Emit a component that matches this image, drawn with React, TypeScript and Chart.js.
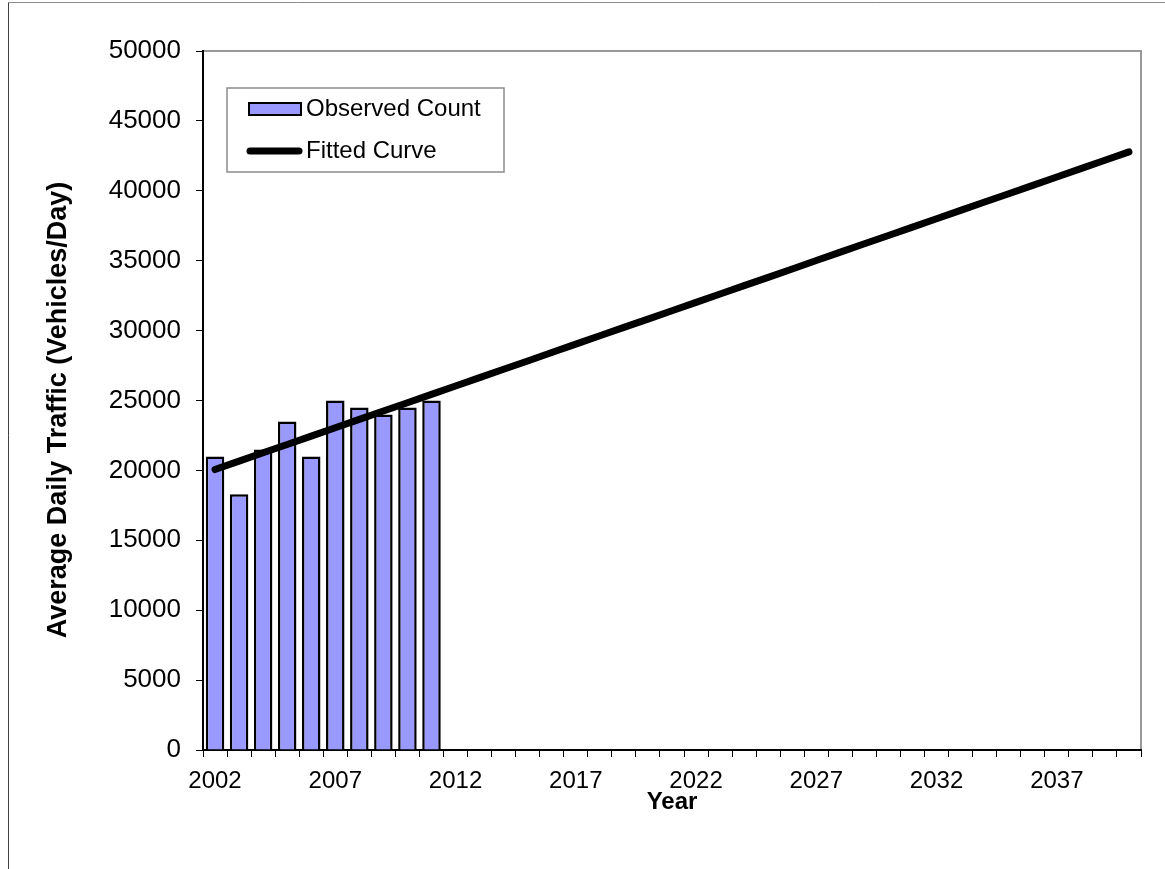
import React, { useEffect, useRef } from 'react';
import { Chart, registerables } from 'chart.js';

Chart.register(...registerables);

const years = [
  '2002', '2003', '2004', '2005', '2006', '2007', '2008', '2009', '2010', '2011',
  '2012', '2013', '2014', '2015', '2016', '2017', '2018', '2019', '2020', '2021',
  '2022', '2023', '2024', '2025', '2026', '2027', '2028', '2029', '2030', '2031',
  '2032', '2033', '2034', '2035', '2036', '2037', '2038', '2039', '2040',
];

const observedCount = [21000, 18300, 21500, 23500, 21000, 25000, 24500, 24000, 24500, 25000];

const fittedCurve = [
  20060, 20660, 21260, 21850, 22450, 23050, 23650, 24250, 24840, 25440,
  26040, 26640, 27240, 27830, 28430, 29030, 29630, 30230, 30820, 31420,
  32020, 32620, 33220, 33810, 34410, 35010, 35610, 36210, 36800, 37400,
  38000, 38600, 39200, 39790, 40390, 40990, 41590, 42190, 42780,
];

const xTickLabels = ['2002', '2007', '2012', '2017', '2022', '2027', '2032', '2037'];
const yMin = 0;
const yMax = 50000;
const yStep = 5000;

const legendLabels = ['Observed Count', 'Fitted Curve'];
const seriesLabels = ['Observed Count', 'Fitted Curve'];
const yTitle = 'Average Daily Traffic (Vehicles/Day)';
const xTitle = 'Year';

const FONT = '"Liberation Sans", Arial, sans-serif';
const BAR_COLOR = '#9999FF';

const decorPlugin = {
  id: 'decor',
  beforeDraw(chart: any) {
    const ctx = chart.ctx;
    ctx.save();
    ctx.fillStyle = '#ffffff';
    ctx.fillRect(0, 0, chart.width, chart.height);
    // outer chart border (left & top)
    ctx.strokeStyle = '#8c8c8c';
    ctx.lineWidth = 1;
    ctx.beginPath();
    ctx.moveTo(chart.width, 2.5);
    ctx.lineTo(8.5, 2.5);
    ctx.stroke();
    ctx.strokeStyle = '#404040';
    ctx.beginPath();
    ctx.moveTo(8.5, 2.5);
    ctx.lineTo(8.5, chart.height);
    ctx.stroke();
    // plot area border (top & right)
    const a = chart.chartArea;
    ctx.strokeStyle = '#999999';
    ctx.lineWidth = 2;
    ctx.beginPath();
    ctx.moveTo(a.left, a.top);
    ctx.lineTo(a.right, a.top);
    ctx.lineTo(a.right, a.bottom);
    ctx.stroke();
    ctx.restore();
  },
  afterDraw(chart: any) {
    const ctx = chart.ctx;
    ctx.save();
    // y axis title
    ctx.save();
    ctx.translate(59, 410);
    ctx.rotate(-Math.PI / 2);
    ctx.fillStyle = '#000000';
    ctx.font = `bold 27px ${FONT}`;
    ctx.textAlign = 'center';
    ctx.textBaseline = 'middle';
    ctx.fillText(yTitle, 0, 0);
    ctx.restore();
    // legend box
    ctx.fillStyle = '#ffffff';
    ctx.strokeStyle = '#8c8c8c';
    ctx.lineWidth = 1.5;
    ctx.fillRect(227, 88, 277, 84);
    ctx.strokeRect(227, 88, 277, 84);
    // bar swatch
    ctx.fillStyle = BAR_COLOR;
    ctx.fillRect(249, 103, 52, 12);
    ctx.strokeStyle = '#000000';
    ctx.lineWidth = 2;
    ctx.strokeRect(249, 103, 52, 12);
    // line swatch
    ctx.lineWidth = 7;
    ctx.lineCap = 'round';
    ctx.beginPath();
    ctx.moveTo(250, 151);
    ctx.lineTo(299, 151);
    ctx.stroke();
    // texts
    ctx.fillStyle = '#000000';
    ctx.font = `24px ${FONT}`;
    ctx.textBaseline = 'middle';
    ctx.textAlign = 'left';
    ctx.fillText(legendLabels[0], 306, 109);
    ctx.fillText(legendLabels[1], 306, 151);
    ctx.restore();
  },
};

export default function App() {
  const canvasRef = useRef<HTMLCanvasElement | null>(null);

  useEffect(() => {
    const canvas = canvasRef.current;
    if (!canvas) return;
    const barData = years.map((_, i) => (i < observedCount.length ? observedCount[i] : null));

    const chart = new Chart(canvas, {
      type: 'bar',
      data: {
        labels: years,
        datasets: [
          {
            type: 'line',
            label: seriesLabels[1],
            data: fittedCurve,
            borderColor: '#000000',
            backgroundColor: '#000000',
            borderWidth: 7,
            borderCapStyle: 'round',
            pointRadius: 0,
            pointHoverRadius: 0,
            fill: false,
            tension: 0,
            order: 0,
          } as any,
          {
            type: 'bar',
            label: seriesLabels[0],
            data: barData,
            backgroundColor: BAR_COLOR,
            borderColor: '#000000',
            borderWidth: 2.5,
            categoryPercentage: 1,
            barPercentage: 0.77,
            order: 1,
          } as any,
        ],
      },
      options: {
        responsive: false,
        animation: false,
        events: [],
        layout: { padding: { left: 0, top: 51, right: 24, bottom: 0 } },
        plugins: {
          legend: { display: false },
          tooltip: { enabled: false },
          title: { display: false },
        },
        scales: {
          x: {
            type: 'category',
            offset: true,
            afterFit: (scale: any) => {
              scale.height = 119;
            },
            grid: {
              offset: true,
              drawOnChartArea: false,
              drawTicks: true,
              tickLength: 7,
              color: '#000000',
              lineWidth: 1,
            },
            border: { display: true, color: '#000000', width: 2 },
            ticks: {
              autoSkip: false,
              maxRotation: 0,
              minRotation: 0,
              padding: 10,
              color: '#000000',
              font: { family: FONT, size: 24 },
              callback: function (this: any, _v: any, idx: number) {
                const lab = years[idx];
                return xTickLabels.includes(lab) ? lab : '';
              },
            },
            title: {
              display: true,
              text: xTitle,
              color: '#000000',
              font: { family: FONT, size: 24, weight: 'bold' },
              padding: { top: 0, bottom: 52 },
            },
          },
          y: {
            type: 'linear',
            min: yMin,
            max: yMax,
            afterFit: (scale: any) => {
              scale.width = 203;
            },
            grid: {
              drawOnChartArea: false,
              drawTicks: true,
              tickLength: 7,
              color: '#000000',
              lineWidth: 1,
            },
            border: { display: true, color: '#000000', width: 2 },
            ticks: {
              stepSize: yStep,
              padding: 15,
              color: '#000000',
              font: { family: FONT, size: 26 },
              callback: (v: any) => String(v),
            },
            title: { display: false },
          },
        },
      },
      plugins: [decorPlugin],
    });

    return () => {
      chart.destroy();
    };
  }, []);

  return (
    <div style={{ position: 'fixed', left: 0, top: 0, width: 1165, height: 869 }}>
      <canvas ref={canvasRef} width={1165} height={869} style={{ width: 1165, height: 869, display: 'block' }} />
    </div>
  );
}
